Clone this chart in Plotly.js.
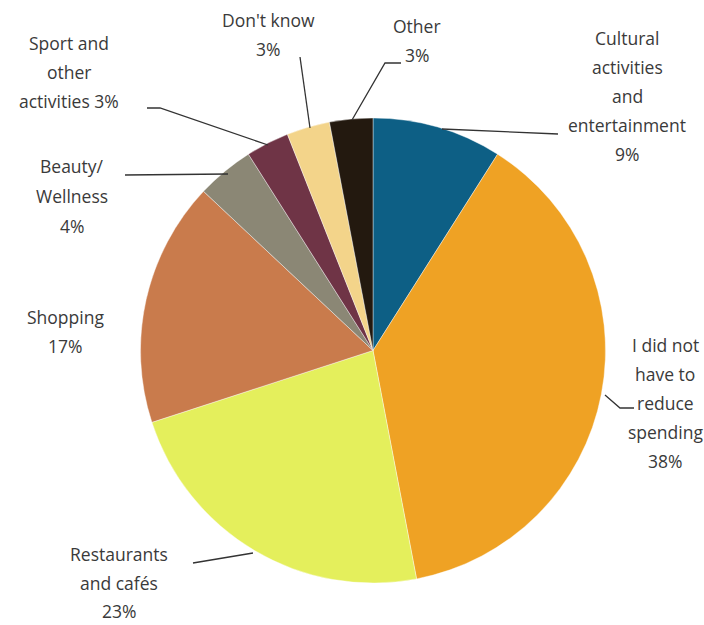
<!DOCTYPE html>
<html>
<head>
<meta charset="utf-8">
<script src="https://cdn.plot.ly/plotly-3.0.1.min.js"></script>
<style>html,body{margin:0;padding:0;background:#fff;}#chart{width:704px;height:625px;}</style>
</head>
<body>
<div id="chart"></div>
<script>
// ---- data ----
const categories = [
  "Cultural activities and entertainment",
  "I did not have to reduce spending",
  "Restaurants and cafés",
  "Shopping",
  "Beauty/ Wellness",
  "Sport and other activities",
  "Don't know",
  "Other"
];
const shares = [9, 38, 23, 17, 4, 3, 3, 3];
const sliceColors = ["#0d5f85", "#efa224", "#e4ef5c", "#c97b4c", "#8b8775", "#6f3446", "#f3d48a", "#23190f"];
const labelLines = [
  ["Cultural", "activities", "and", "entertainment", "9%"],
  ["I did not", "have to", "reduce", "spending", "38%"],
  ["Restaurants", "and cafés", "23%"],
  ["Shopping", "17%"],
  ["Beauty/", "Wellness", "4%"],
  ["Sport and", "other", "activities 3%"],
  ["Don't know", "3%"],
  ["Other", "3%"]
];

// ---- layout helpers (pixel -> paper) ----
const W = 704, H = 625;
const px = x => x / W;
const py = y => 1 - y / H;

// label anchor (centre x, first-line y) and line spacing
const labelPos = [
  [627, 38], [665, 345], [119, 554], [65, 317], [72, 166], [69, 43], [268, 20], [417, 26]
];
const lineGap = [29, 29, 28.5, 29, 30, 29, 29, 29];

const leaders = [
  [[442, 129], [558, 134]],
  [[605, 395], [620, 408], [634, 408]],
  [[253, 553], [193, 563]],
  null,
  [[228, 174], [125, 175]],
  [[268, 145], [160, 108], [147, 108]],
  [[310, 128], [300, 57]],
  [[352, 120], [385, 63], [401, 63]]
];

const annotations = [];
labelLines.forEach((lines, i) => {
  lines.forEach((t, j) => {
    annotations.push({
      xref: "paper", yref: "paper",
      x: px(labelPos[i][0]), y: py(labelPos[i][1] + j * lineGap[i]),
      xanchor: "center", yanchor: "middle",
      text: t, showarrow: false,
      font: {family: "'Open Sans', 'Noto Sans', sans-serif", size: 17.5, color: "#3a3a3a"}
    });
  });
});

const shapes = [];
leaders.forEach(pts => {
  if (!pts) return;
  const d = pts.map((p, k) => (k ? "L" : "M") + px(p[0]) + "," + py(p[1])).join(" ");
  shapes.push({type: "path", xref: "paper", yref: "paper", path: d,
    line: {color: "#333333", width: 1.3}});
});

const trace = {
  type: "pie",
  labels: categories,
  values: shares,
  sort: false,
  direction: "clockwise",
  rotation: 0,
  textinfo: "none",
  marker: {colors: sliceColors, line: {color: "rgba(255,255,255,0.5)", width: 0.8}},
  domain: {x: [px(138), px(608)], y: [py(583), py(118)]},
  showlegend: false
};

const layout = {
  width: W, height: H,
  margin: {l: 0, r: 0, t: 0, b: 0},
  paper_bgcolor: "#ffffff",
  showlegend: false,
  annotations: annotations,
  shapes: shapes
};

Plotly.newPlot("chart", [trace], layout, {displayModeBar: false, staticPlot: true});
</script>
</body>
</html>
